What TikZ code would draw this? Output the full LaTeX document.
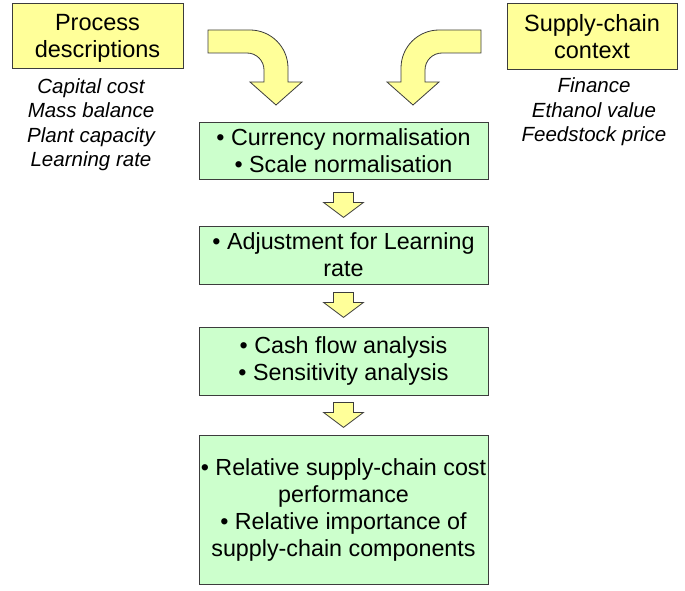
\documentclass[tikz,border=0pt]{standalone}
\usepackage{fontspec}
\setmainfont{Liberation Sans}
\usetikzlibrary{calc,positioning}

\definecolor{boxyellow}{RGB}{255,255,153}
\definecolor{boxgreen}{RGB}{204,255,204}
\definecolor{edgegray}{RGB}{60,60,60}

% bent block arrow, drawn for the left side and mirrored for the right
\newcommand{\bentarrow}[1]{%
  \draw[blockarrow,#1] (208,30) -- (250,30) .. controls (271,30) and (288,47) .. (288,68)
    -- (288,82) -- (302,82) -- (276,105) -- (250,82) -- (264,82) -- (264,70)
    .. controls (264,60.6) and (256.4,53) .. (247,53) -- (208,53) -- cycle;}
% small block arrow between two steps
\newcommand{\flowarrow}[1]{%
  \draw[blockarrow, shift={(#1)}] (-10,0) -- (10,0) -- (10,10) -- (20,10) -- (0,25)
    -- (-20,10) -- (-10,10) -- cycle;}

\begin{document}
\begin{tikzpicture}[x=1pt, y=-1pt,
  inputbox/.style={draw=edgegray, line width=0.8pt, fill=boxyellow, inner sep=0pt,
    text depth=0pt, align=center, font=\fontsize{23.5}{27}\selectfont},
  listtext/.style={inner sep=0pt, align=center, font=\fontsize{20.5}{24.5}\selectfont\itshape},
  stepbox/.style={draw=edgegray, line width=0.8pt, fill=boxgreen, inner sep=0pt,
    minimum width=289pt, align=center, font=\fontsize{23.3}{27}\selectfont},
  blockarrow/.style={draw=edgegray, line width=0.8pt, fill=boxyellow, line join=miter}]
  \useasboundingbox (0,0) rectangle (685,591);

  % Inputs
  \node[inputbox, minimum width=171pt, minimum height=65pt] (proc) at (97.5,35.5)
    {Process\\descriptions};
  \node[inputbox, minimum width=170pt, minimum height=66pt] (supply) at (592,36)
    {Supply-chain\\context};
  \node[listtext] (proclist) at (91,124.5)
    {Capital cost\\Mass balance\\Plant capacity\\Learning rate};
  \node[listtext] (supplylist) at (594,112)
    {Finance\\Ethanol value\\Feedstock price};

  % Bent arrows into the first step
  \bentarrow{}
  \bentarrow{shift={(689,0)}, xscale=-1}

  % Steps
  \node[stepbox, minimum height=57pt] (norm) at (343.5,150.5)
    {\textbullet\ Currency normalisation\\\textbullet\ Scale normalisation};
  \node[stepbox, minimum height=58pt] (learn) at (343.5,255)
    {\textbullet\ Adjustment for Learning\\rate};
  \node[stepbox, minimum height=68pt] (cash) at (343.5,361)
    {\textbullet\ Cash flow analysis\\\textbullet\ Sensitivity analysis};
  \node[stepbox, minimum height=149pt] (result) at (343.5,509.5)
    {\textbullet\ Relative supply-chain cost\\performance\\\textbullet\ Relative importance of\\supply-chain components};

  % Arrows between steps
  \coordinate (a1) at ($(norm.south)+(0,13)$);
  \coordinate (a2) at ($(learn.south)+(0,8)$);
  \coordinate (a3) at ($(cash.south)+(0,7)$);
  \foreach \point in {a1, a2, a3}
    {\flowarrow{\point}}
\end{tikzpicture}
\end{document}
